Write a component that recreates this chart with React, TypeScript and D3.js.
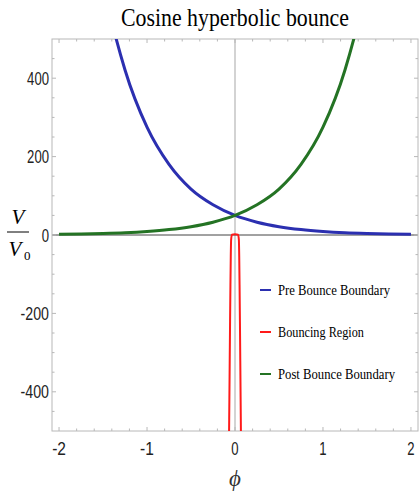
import React from 'react';
import * as d3 from 'd3';

// values (phi in steps of 0.25)
const phi = [-2, -1.75, -1.5, -1.25, -1, -0.75, -0.5, -0.25, 0, 0.25, 0.5, 0.75, 1, 1.25, 1.5, 1.75, 2];
const preBounce = [1513, 985, 645, 421, 275, 180, 117, 77, 50, 32.7, 21.3, 13.9, 9.1, 5.9, 3.9, 2.5, 1.65];
const postBounce = [1.65, 2.5, 3.9, 5.9, 9.1, 13.9, 21.3, 32.7, 50, 77, 117, 180, 275, 421, 645, 985, 1513];

// narrow bouncing region around phi = 0
const bouncePhi = [-0.068, -0.064, -0.06, -0.056, -0.052, -0.048, -0.044, -0.035, 0, 0.035, 0.044, 0.048, 0.052, 0.056, 0.06, 0.064, 0.068];
const bounceV = [-520, -420, -320, -220, -130, -55, -12, 1, 2, 1, -12, -55, -130, -220, -320, -420, -520];

const xTicks = [-2, -1, 0, 1, 2];
const yTicks = [-400, -200, 0, 200, 400];

const legendItems = [
  { label: 'Pre Bounce Boundary', color: '#2b2fb0', len: 112 },
  { label: 'Bouncing Region', color: '#ff1a1a', len: 86 },
  { label: 'Post Bounce Boundary', color: '#247324', len: 117 },
];

const width = 420;
const height = 501;
const margin = { top: 39, right: 2, bottom: 70, left: 52 };

const tickFont = '"Liberation Sans Narrow", "Liberation Sans", sans-serif';
const serif = '"Liberation Serif", "DejaVu Serif", serif';

// tick label text, with its squeezed width so the digits look tall and narrow
const tickText = (t: number) => (t < 0 ? '-' + Math.abs(t) : String(t));
const tickLen = (t: number) => String(Math.abs(t)).length * 7.3 + (t < 0 ? 6.5 : 0);

export default function App() {
  const x = d3.scaleLinear().domain([-2.08, 2.08]).range([margin.left, width - margin.right]);
  const y = d3.scaleLinear().domain([-500, 500]).range([height - margin.bottom, margin.top]);

  const line = d3.line<[number, number]>()
    .x(d => x(d[0]))
    .y(d => y(d[1]))
    .curve(d3.curveMonotoneX);

  const pre = line(phi.map((p, i) => [p, preBounce[i]]));
  const post = line(phi.map((p, i) => [p, postBounce[i]]));
  const bounce = line(bouncePhi.map((p, i) => [p, bounceV[i]]));

  const x0 = margin.left, x1 = width - margin.right;
  const y0 = margin.top, y1 = height - margin.bottom;

  const xMinor = d3.range(-2, 2.001, 0.2).filter(v => Math.abs(v - Math.round(v)) > 0.01);
  const yMinor = d3.range(-450, 451, 50).filter(v => v % 200 !== 0);

  const frameColor = '#b8b8b8';

  return (
    <svg width={width} height={height} style={{ position: 'absolute', left: 0, top: 0, background: '#fff' }}>
      <defs>
        <clipPath id="plot">
          <rect x={x0} y={y0} width={x1 - x0} height={y1 - y0} />
        </clipPath>
      </defs>

      <text x={(x0 + x1) / 2} y={26} textAnchor="middle" fontFamily={serif} fontSize={25}
        textLength={228} lengthAdjust="spacingAndGlyphs" fill="#000">Cosine hyperbolic bounce</text>

      {/* axes through origin */}
      <line x1={x(0)} x2={x(0)} y1={y0} y2={y1} stroke="#c4c4c4" strokeWidth={1.5} />
      <line x1={x0} x2={x1} y1={y(0)} y2={y(0)} stroke="#444" strokeWidth={1} />

      {/* frame */}
      <rect x={x0} y={y0} width={x1 - x0} height={y1 - y0} fill="none" stroke={frameColor} strokeWidth={1} />

      {xTicks.map(t => (
        <g key={'xt' + t}>
          <line x1={x(t)} x2={x(t)} y1={y1} y2={y1 - 4} stroke={frameColor} />
          <line x1={x(t)} x2={x(t)} y1={y0} y2={y0 + 4} stroke={frameColor} />
          <text x={x(t)} y={y1 + 24} textAnchor="middle" fontFamily={tickFont} fontSize={18}
            textLength={tickLen(t)} lengthAdjust="spacingAndGlyphs" fill="#222">
            {tickText(t)}
          </text>
        </g>
      ))}
      {xMinor.map(t => (
        <g key={'xm' + t}>
          <line x1={x(t)} x2={x(t)} y1={y1} y2={y1 - 2.5} stroke={frameColor} />
          <line x1={x(t)} x2={x(t)} y1={y0} y2={y0 + 2.5} stroke={frameColor} />
        </g>
      ))}
      {yTicks.map(t => (
        <g key={'yt' + t}>
          <line x1={x0} x2={x0 + 4} y1={y(t)} y2={y(t)} stroke={frameColor} />
          <line x1={x1} x2={x1 - 4} y1={y(t)} y2={y(t)} stroke={frameColor} />
          <text x={x0 - 3} y={y(t) + 6.5} textAnchor="end" fontFamily={tickFont} fontSize={18}
            textLength={tickLen(t)} lengthAdjust="spacingAndGlyphs" fill="#222">
            {tickText(t)}
          </text>
        </g>
      ))}
      {yMinor.map(t => (
        <g key={'ym' + t}>
          <line x1={x0} x2={x0 + 2.5} y1={y(t)} y2={y(t)} stroke={frameColor} />
          <line x1={x1} x2={x1 - 2.5} y1={y(t)} y2={y(t)} stroke={frameColor} />
        </g>
      ))}

      <g clipPath="url(#plot)" fill="none">
        <path d={pre ?? ''} stroke="#2b2fb0" strokeWidth={3} />
        <path d={post ?? ''} stroke="#247324" strokeWidth={3} />
        <path d={bounce ?? ''} stroke="#ff1a1a" strokeWidth={2} />
      </g>

      {legendItems.map((d, i) => (
        <g key={d.label} transform={`translate(260,${290 + i * 42})`}>
          <line x1={0} x2={11} y1={0} y2={0} stroke={d.color} strokeWidth={2} />
          <text x={18} y={5} fontFamily={serif} fontSize={15} textLength={d.len}
            lengthAdjust="spacingAndGlyphs" fill="#000">{d.label}</text>
        </g>
      ))}

      {/* axis labels */}
      <text x={x(0)} y={y1 + 55} textAnchor="middle" fontFamily={serif} fontStyle="italic" fontSize={23} fill="#333">ϕ</text>
      <g fontFamily={serif} fontStyle="italic" fontSize={21} fill="#000">
        <text x={18} y={224} textAnchor="middle">V</text>
        <line x1={7} x2={29} y1={232} y2={232} stroke="#000" strokeWidth={1} />
        <text x={15} y={256} textAnchor="middle">V</text>
        <text x={24} y={260} fontSize={13} fontStyle="normal">0</text>
      </g>
    </svg>
  );
}
